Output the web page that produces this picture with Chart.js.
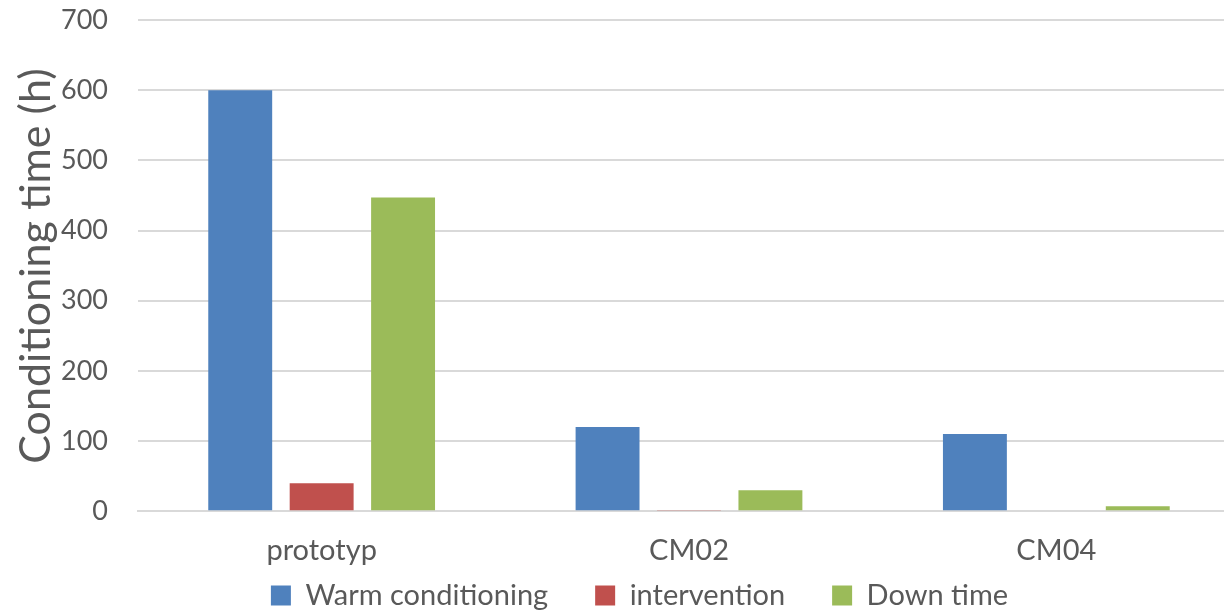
<!DOCTYPE html>
<html>
<head>
<meta charset="utf-8">
<script src="https://cdn.jsdelivr.net/npm/chart.js@4"></script>
<style>
html,body{margin:0;padding:0;background:#fff;overflow:hidden;}
#wrap{width:1240px;height:611px;position:relative;}
</style>
</head>
<body>
<div id="wrap"><canvas id="c"></canvas></div>
<script>
const categories = ["prototyp", "CM02", "CM04"];
const seriesNames = ["Warm conditioning", "intervention", "Down time"];
const warmConditioning = [600, 120, 110];
const intervention = [40, 1, 0];
const downTime = [447, 30, 7];
const yTicks = [0, 100, 200, 300, 400, 500, 600, 700];
const yTitle = "Conditioning time (h)";

const FONT = "Lato";
const TXT = "#595959";

const yTitlePlugin = {
  id: "yTitlePlugin",
  afterDraw(chart) {
    const ctx = chart.ctx;
    ctx.save();
    ctx.translate(50, 266);
    ctx.rotate(-Math.PI / 2);
    ctx.font = "43px " + FONT;
    ctx.fillStyle = TXT;
    ctx.textAlign = "center";
    ctx.textBaseline = "alphabetic";
    ctx.fillText(yTitle, 0, 0);
    ctx.restore();
  }
};

const legendTweak = {
  id: "legendTweak",
  beforeInit(chart) {
    const lg = chart.legend;
    if (!lg) return;
    const origFit = lg.fit;
    lg.fit = function () { origFit.call(this); this.height = 21; };
    const origDraw = lg.draw;
    lg.draw = function (area) {
      const t = this.top, l = this.left, r = this.right;
      this.top = t - 56;
      this.left = l - 11;
      this.right = r - 11;
      origDraw.call(this, area);
      this.top = t; this.left = l; this.right = r;
    };
  }
};

new Chart(document.getElementById("c"), {
  type: "bar",
  data: {
    labels: categories,
    datasets: [
      { label: seriesNames[0], data: warmConditioning, backgroundColor: "#4F81BD" },
      { label: seriesNames[1], data: intervention, backgroundColor: "#C0504D" },
      { label: seriesNames[2], data: downTime, backgroundColor: "#9BBB59" }
    ]
  },
  options: {
    responsive: true,
    maintainAspectRatio: false,
    animation: false,
    categoryPercentage: 0.665,
    barPercentage: 0.785,
    layout: { padding: { left: 61, top: 20, right: 0, bottom: 0 } },
    plugins: {
      tooltip: { enabled: false },
      legend: {
        position: "bottom",
        labels: {
          font: { family: FONT, size: 29 },
          color: TXT,
          boxWidth: 20,
          boxHeight: 20,
          padding: 47
        }
      }
    },
    scales: {
      x: {
        grid: { display: false, drawTicks: false },
        border: { display: true, color: "#D9D9D9", width: 2 },
        ticks: { font: { family: FONT, size: 29 }, color: TXT, padding: 22 }
      },
      y: {
        min: 0,
        max: 700,
        afterBuildTicks(scale) { scale.ticks = yTicks.map(v => ({ value: v })); },
        grid: { color: "#D9D9D9", lineWidth: 2, drawTicks: true, tickLength: 30, tickColor: "rgba(0,0,0,0)" },
        border: { display: false },
        ticks: { font: { family: FONT, size: 27 }, color: TXT, padding: 0 }
      }
    }
  },
  plugins: [yTitlePlugin, legendTweak]
});
</script>
</body>
</html>
